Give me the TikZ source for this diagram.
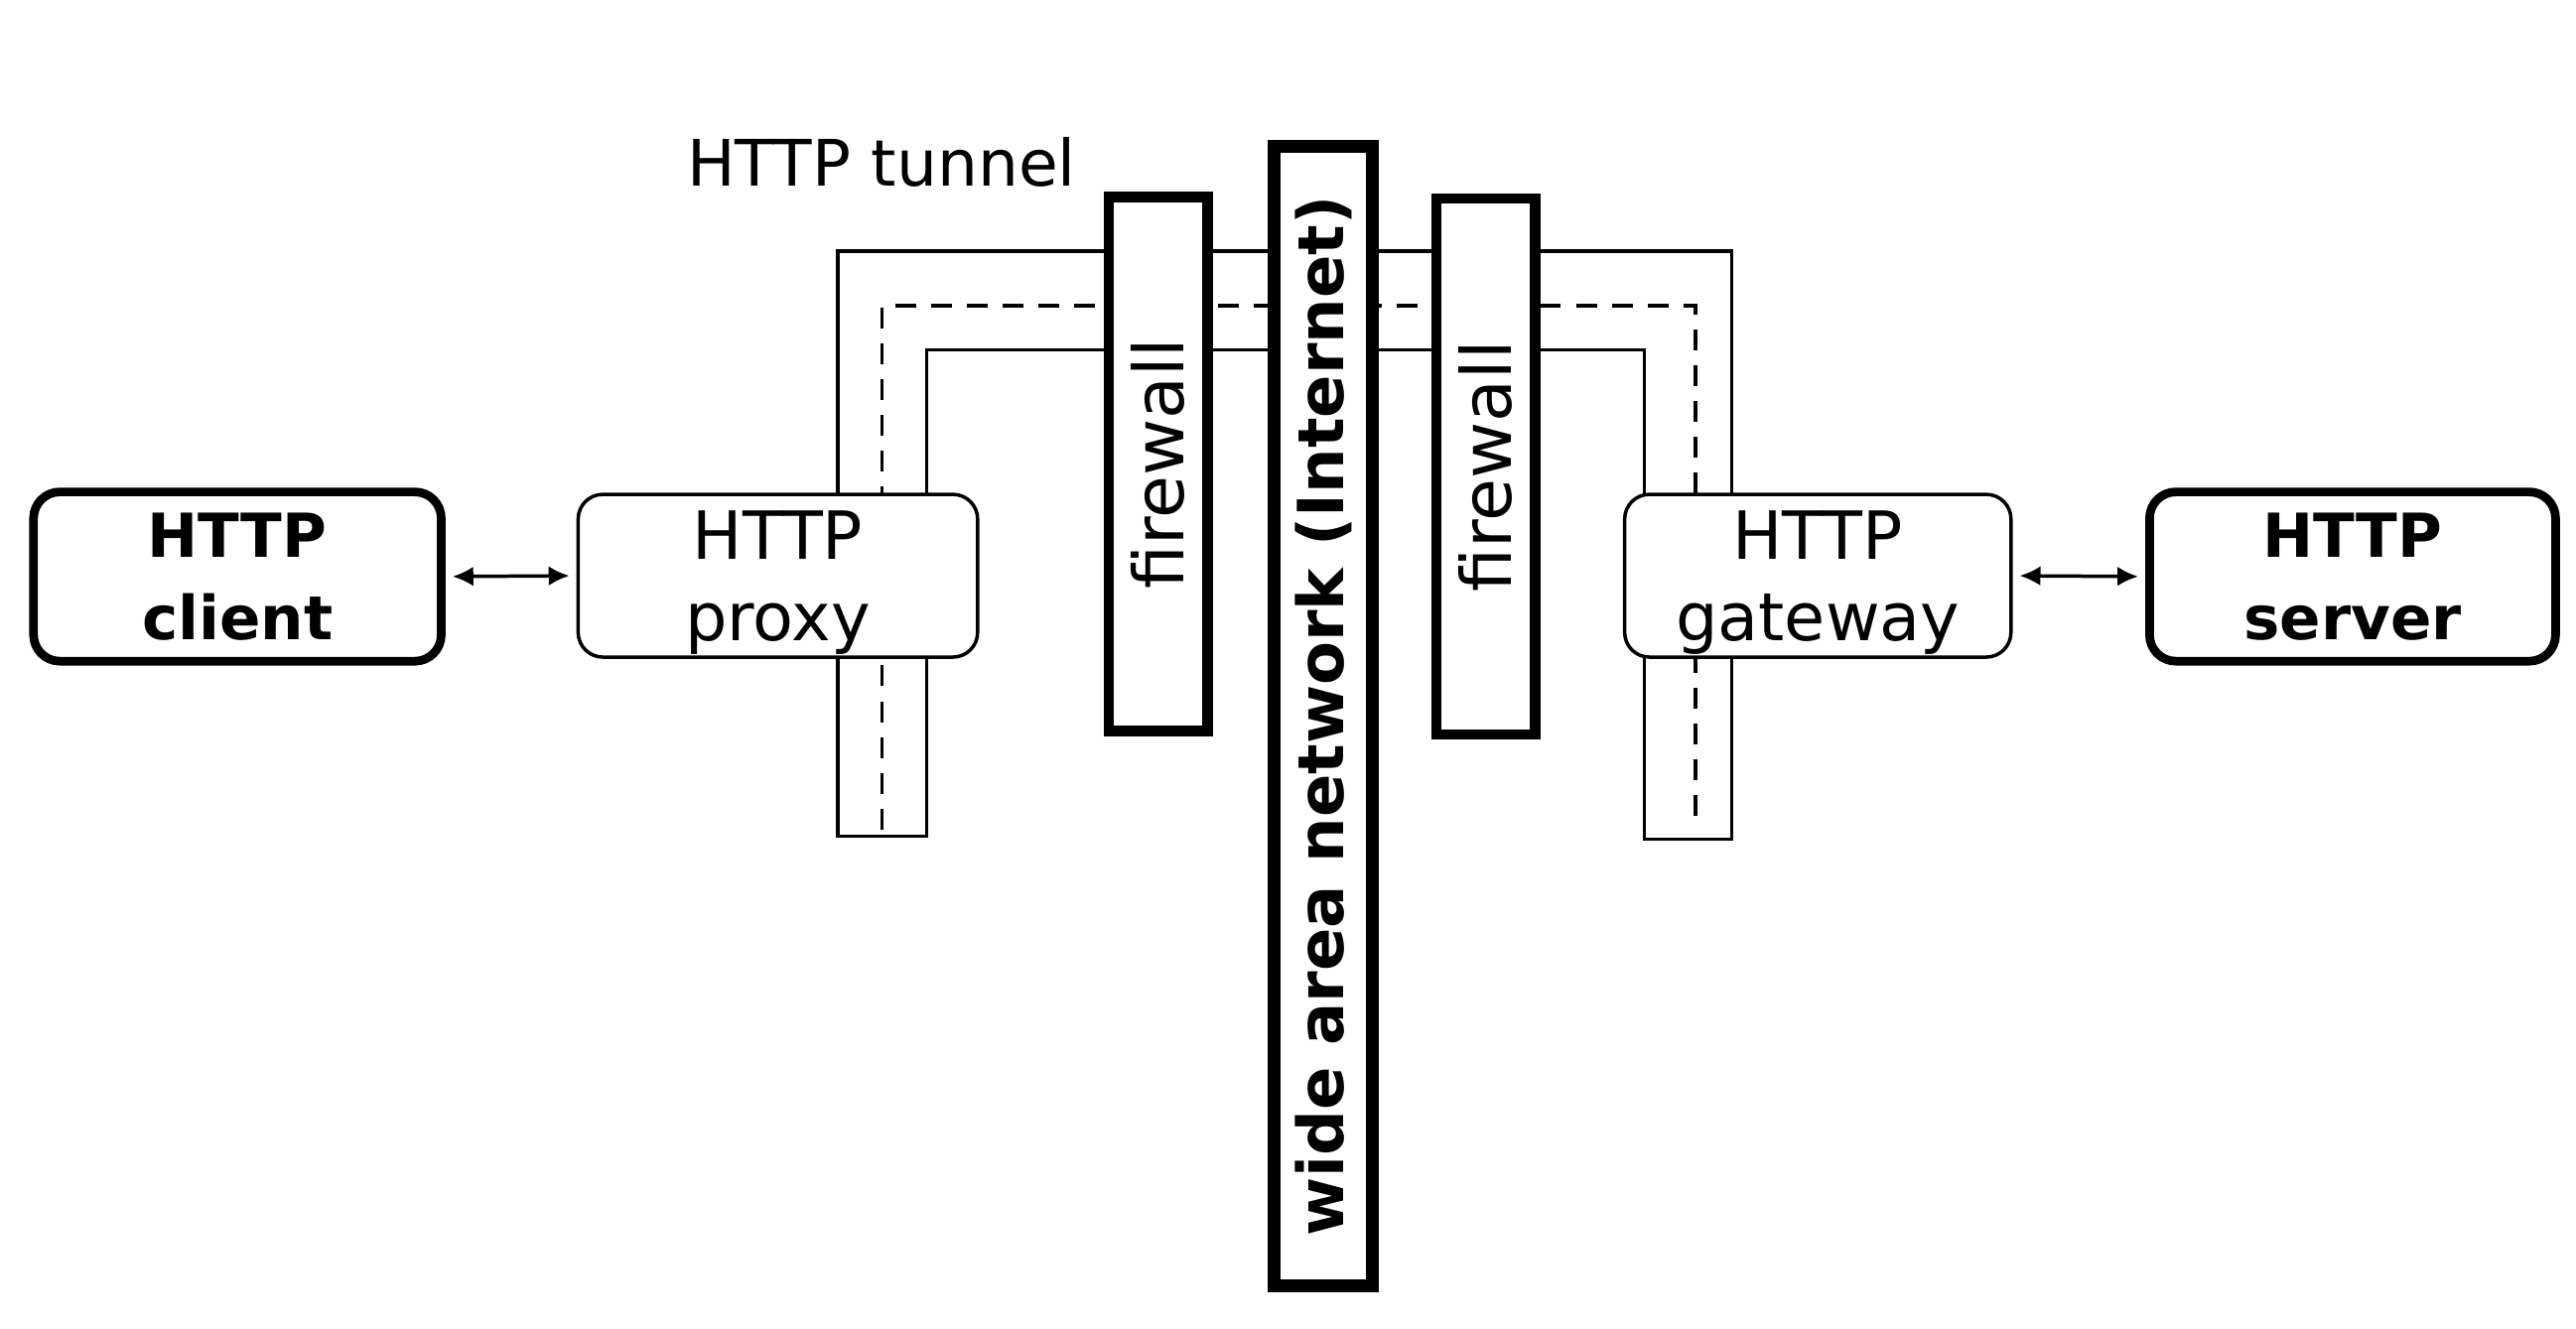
\documentclass[tikz,border=0pt]{standalone}
\usepackage{fontspec}
\setmainfont{DejaVu Sans}
\usetikzlibrary{arrows.meta}
\begin{document}
\begin{tikzpicture}[x=0.01cm,y=-0.01cm,
  thinbox/.style={draw,line width=0.6pt,rounded corners=0.15cm,fill=white,inner sep=0pt,
    align=center,font=\fontsize{11.5}{14.2}\selectfont},
  thickbox/.style={draw,line width=1.5pt,rounded corners=0.16cm,fill=white,inner sep=0pt,
    align=center,font=\fontsize{10.5}{14.2}\selectfont\bfseries},
  wallbox/.style={draw,line width=1.8pt,fill=white,inner sep=0pt,rotate=90,
    minimum height=0.6cm,font=\fontsize{12}{14}\selectfont},
  wanbox/.style={draw,line width=2.2pt,fill=white,inner sep=0pt,rotate=90,
    minimum height=0.6cm,font=\fontsize{11}{13}\selectfont\bfseries},
  tube/.style={line width=0.6pt,line join=miter},
  tubedash/.style={line width=0.6pt,dash pattern=on 3.6pt off 2.6pt},
  link/.style={line width=0.6pt,{Latex[length=3.6pt,width=3.4pt]}-{Latex[length=3.6pt,width=3.4pt]},
    shorten <=1.2pt,shorten >=1.2pt}
]
\useasboundingbox (0,0) rectangle (1568,809);

% tunnel
\draw[tube] (510,509) -- (510,153) -- (1054,153) -- (1054,511) -- (1001,511)
  -- (1001,213) -- (564,213) -- (564,509) -- cycle;
\draw[tubedash] (537,505) -- (537,186) -- (1032,186) -- (1032,505);

\node[anchor=base,font=\fontsize{11.1}{13}\selectfont] (tunnel) at (536.5,113) {HTTP tunnel};

% firewalls and WAN
\node[wallbox,minimum width=3.25cm] (fw1) at (705,282.5) {firewall};
\node[wallbox,minimum width=3.26cm] (fw2) at (904.5,284) {firewall};
\node[wanbox,minimum width=6.93cm] (wan) at (805.5,436) {wide area network (Internet)};

% boxes
\node[thickbox,minimum width=2.48cm,minimum height=1.03cm] (client) at (144.5,351) {HTTP\\client};
\node[thinbox,text depth=0pt,minimum width=2.43cm,minimum height=0.99cm] (proxy) at (473.5,350.5) {HTTP\\proxy};
\node[thinbox,text depth=0pt,minimum width=2.35cm,minimum height=0.99cm] (gateway) at (1106.5,350.5) {HTTP\\gateway};
\node[thickbox,minimum width=2.47cm,minimum height=1.03cm] (server) at (1432,351) {HTTP\\server};

\draw[link] (client.east) -- (proxy.west);
\draw[link] (gateway.east) -- (server.west);
\end{tikzpicture}
\end{document}
